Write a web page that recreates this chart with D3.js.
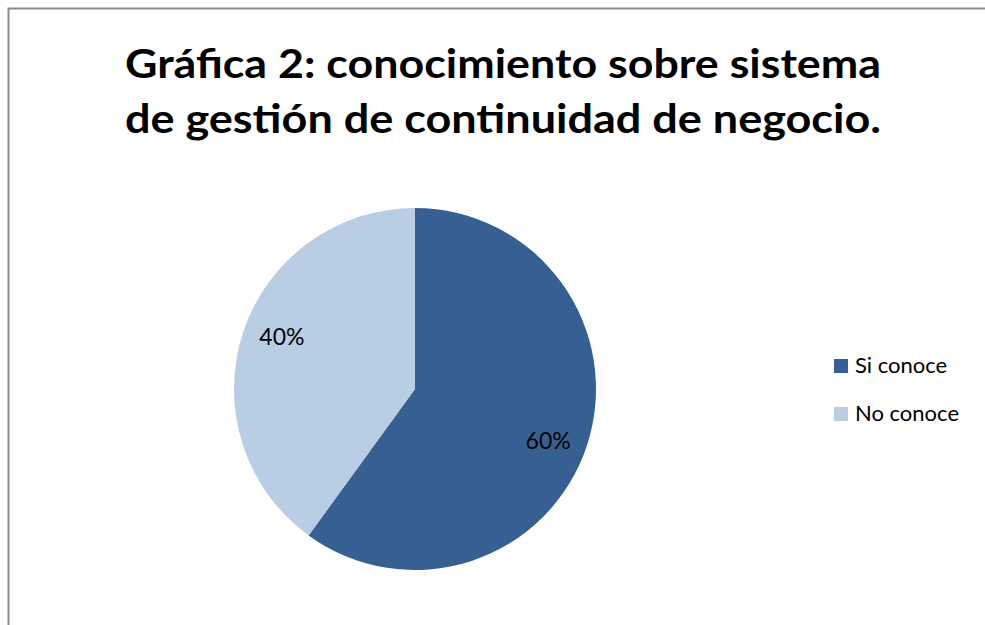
<!DOCTYPE html>
<html>
<head>
<meta charset="utf-8">
<script src="https://cdn.jsdelivr.net/npm/d3@7"></script>
<style>
  body { margin: 0; background: #fff; }
  svg { display: block; font-family: Lato, "Open Sans", sans-serif; }
</style>
</head>
<body>
<div id="chart"></div>
<script>
// chart data
var titleLines = ["Gráfica 2: conocimiento sobre sistema", "de gestión de continuidad de negocio."];
var categories = ["Si conoce", "No conoce"];
var values = [60, 40];
var colors = ["#376092", "#b9cde5"];

var width = 985, height = 625;
var cx = 415, cy = 389, radius = 181;

var svg = d3.select("#chart").append("svg")
	.attr("width", width)
	.attr("height", height);

// chart area border (only left and top visible in the crop)
svg.append("rect")
	.attr("x", 8.5).attr("y", 8.5)
	.attr("width", width + 20).attr("height", height + 20)
	.attr("fill", "#fff")
	.attr("stroke", "#8a8a8a")
	.attr("stroke-width", 2);

// title, two lines
svg.selectAll("text.title")
	.data(titleLines)
	.enter().append("text")
	.attr("class", "title")
	.attr("x", 503)
	.attr("y", function(d, i){ return 78 + i * 55; })
	.attr("text-anchor", "middle")
	.attr("textLength", 756)
	.attr("lengthAdjust", "spacingAndGlyphs")
	.style("font-size", "40px")
	.style("font-weight", "bold")
	.attr("fill", "#000")
	.text(function(d){ return d; });

var pie = d3.pie().sort(null).value(function(d){ return d; });
var arcs = pie(values);
var arc = d3.arc().innerRadius(0).outerRadius(radius);
var labelArc = d3.arc().innerRadius(143).outerRadius(143);

var g = svg.append("g").attr("transform", "translate(" + cx + "," + cy + ")");

g.selectAll("path")
	.data(arcs)
	.enter().append("path")
	.attr("d", arc)
	.attr("fill", function(d, i){ return colors[i]; });

var total = d3.sum(values);
g.selectAll("text.lbl")
	.data(arcs)
	.enter().append("text")
	.attr("class", "lbl")
	.attr("transform", function(d){
		// nudge a few degrees clockwise, like the office chart does
		var c = labelArc.centroid({startAngle: d.startAngle + 0.06, endAngle: d.endAngle + 0.06});
		return "translate(" + c + ")";
	})
	.attr("text-anchor", "middle")
	.attr("dy", "0.35em")
	.style("font-size", "23px")
	.attr("fill", "#000")
	.text(function(d){ return Math.round(d.value / total * 100) + "%"; });

// legend
var legend = svg.selectAll("g.legend")
	.data(categories)
	.enter().append("g")
	.attr("class", "legend")
	.attr("transform", function(d, i){ return "translate(834," + (359 + i * 48) + ")"; });

legend.append("rect")
	.attr("width", 14).attr("height", 14)
	.attr("fill", function(d, i){ return colors[i]; });

legend.append("text")
	.attr("x", 21)
	.attr("y", 14)
	.style("font-size", "22px")
	.attr("fill", "#000")
	.text(function(d){ return d; });
</script>
</body>
</html>
